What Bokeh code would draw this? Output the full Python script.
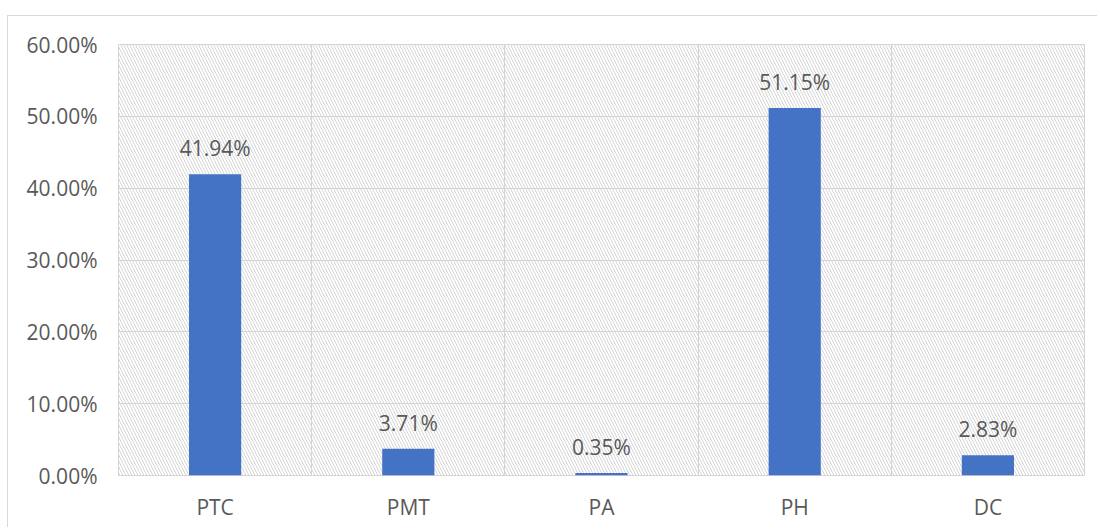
from bokeh.plotting import figure
from bokeh.models import (Range1d, FixedTicker, NumeralTickFormatter, BoxAnnotation,
                          ColumnDataSource)
from bokeh.core.properties import value
from bokeh.embed import file_html
from bokeh.resources import INLINE

categories = ["PTC", "PMT", "PA", "PH", "DC"]
shares = [0.4194, 0.0371, 0.0035, 0.5115, 0.0283]
y_ticks = [0.0, 0.1, 0.2, 0.3, 0.4, 0.5, 0.6]

xs = [i + 0.5 for i in range(len(categories))]
labels = [f"{v * 100:.2f}%" for v in shares]
src = ColumnDataSource(dict(x=xs, top=shares, label=labels))

FONT = "Open Sans"
TXT = "#595959"
GRID = "#d4d4d4"

p = figure(width=1090, height=512, output_backend="svg", toolbar_location=None,
           x_range=Range1d(0, len(categories)), y_range=Range1d(0, 0.6),
           min_border_left=110, min_border_right=14, min_border_top=28,
           min_border_bottom=53)
p.styles = {"border-top": "1px solid #d9d9d9", "border-left": "1px solid #d9d9d9",
            "margin-top": "15px", "margin-left": "7px"}

# hatched plot-area background
bg = BoxAnnotation(fill_color=None, line_color=None, hatch_pattern="\\",
                   hatch_scale=6, hatch_weight=1, hatch_color="#d4d4d4",
                   level="image")
p.add_layout(bg)

p.vbar(x="x", top="top", width=0.27, source=src, color="#4472C4", line_color=None)
p.text(x="x", y="top", text="label", source=src, text_align="center",
       text_baseline="alphabetic", y_offset=-26, text_color=TXT,
       text_font=value(FONT), text_font_size="21px")

p.outline_line_color = GRID
p.outline_line_width = 1

# axes
p.yaxis.ticker = FixedTicker(ticks=y_ticks)
p.yaxis.formatter = NumeralTickFormatter(format="0.00%")
p.xaxis.ticker = FixedTicker(ticks=xs)
p.xaxis.major_label_overrides = {x: c for x, c in zip(xs, categories)}
for ax in (p.xaxis[0], p.yaxis[0]):
    ax.axis_line_color = None
    ax.major_tick_line_color = None
    ax.minor_tick_line_color = None
    ax.major_tick_out = 0
    ax.major_tick_in = 0
    ax.major_label_text_font = FONT
    ax.major_label_text_font_size = "21px"
    ax.major_label_text_color = TXT
p.yaxis.major_label_standoff = 21
p.xaxis.major_label_standoff = 17

# grids
p.ygrid.ticker = FixedTicker(ticks=y_ticks)
p.ygrid.grid_line_color = GRID
p.ygrid.grid_line_width = 1
p.xgrid.ticker = FixedTicker(ticks=list(range(1, len(categories))))
p.xgrid.grid_line_color = GRID
p.xgrid.grid_line_width = 1

open("out.html", "w").write(file_html(p, INLINE))
